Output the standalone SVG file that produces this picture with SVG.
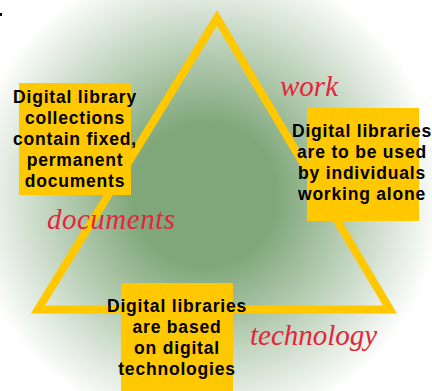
<svg xmlns="http://www.w3.org/2000/svg" width="432" height="391" viewBox="0 0 432 391">
<defs>
<radialGradient id="bg" gradientUnits="userSpaceOnUse" cx="205" cy="195" r="255">
<stop offset="0" stop-color="#7fa77a"/>
<stop offset="0.28" stop-color="#7fa77a"/>
<stop offset="0.93" stop-color="#ffffff"/>
<stop offset="1" stop-color="#ffffff"/>
</radialGradient>
<style>
.box{fill:#ffc800}
.t{font-family:"Liberation Sans",Arial,sans-serif;font-weight:bold;font-size:17.5px;letter-spacing:0.8px;fill:#000;text-anchor:middle}
.lab{font-family:"Liberation Serif","Times New Roman",serif;font-style:italic;font-size:29px;fill:#e3263a}
</style>
</defs>
<rect width="432" height="391" fill="#fff"/>
<rect width="432" height="391" fill="url(#bg)"/>
<rect x="0" y="13" width="2" height="3" fill="#000"/>
<g id="connectors">
<polygon points="217,18 390,309.5 38,309.5" fill="none" stroke="#ffc800" stroke-width="8" stroke-linejoin="miter" stroke-miterlimit="10"/>
</g>
<g id="node-documents-box">
<rect class="box" x="19" y="83" width="112" height="112"/>
<text class="t" x="75" y="103">Digital library</text>
<text class="t" x="75" y="124">collections</text>
<text class="t" x="75" y="145">contain fixed,</text>
<text class="t" x="75" y="166">permanent</text>
<text class="t" x="75" y="187">documents</text>
</g>
<g id="node-work-box">
<rect class="box" x="307" y="108" width="112" height="113"/>
<text class="t" x="362" y="137">Digital libraries</text>
<text class="t" x="362" y="158">are to be used</text>
<text class="t" x="362" y="179">by individuals</text>
<text class="t" x="362" y="200">working alone</text>
</g>
<g id="node-technology-box">
<rect class="box" x="121" y="283" width="112" height="112"/>
<text class="t" x="177" y="312">Digital libraries</text>
<text class="t" x="177" y="333">are based</text>
<text class="t" x="177" y="354">on digital</text>
<text class="t" x="177" y="375">technologies</text>
</g>
<g id="node-work"><text class="lab" x="280" y="96">work</text></g>
<g id="node-documents"><text class="lab" x="47" y="229" textLength="128" lengthAdjust="spacing">documents</text></g>
<g id="node-technology"><text class="lab" x="250" y="345">technology</text></g>
</svg>
